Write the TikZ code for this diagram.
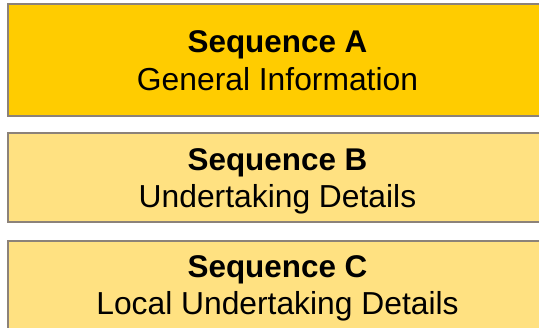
\documentclass[tikz,border=0pt]{standalone}
\usepackage{fontspec}
\setmainfont{Liberation Sans}
\usetikzlibrary{positioning}
\definecolor{seqgold}{HTML}{FFCC00}
\definecolor{seqpale}{HTML}{FFE181}
\definecolor{seqline}{HTML}{8C8279}
\tikzstyle{every node}+=[inner sep=0pt]
\tikzstyle{seqbox}=[draw=seqline,line width=1.5pt,minimum width=539pt]
\tikzstyle{seqhead}=[font=\fontsize{31.4}{38}\selectfont\bfseries,anchor=base]
\tikzstyle{seqtext}=[font=\fontsize{31.8}{38}\selectfont,anchor=base]

\begin{document}
\begin{tikzpicture}[x=1pt,y=-1pt]
\useasboundingbox (0,0) rectangle (539,328);

\node[seqbox,fill=seqgold,minimum height=112pt] (boxA) at (277.5,60) {};
\node[seqbox,fill=seqpale,minimum height=89pt,below=15.5pt of boxA] (boxB) {};
\node[seqbox,fill=seqpale,minimum height=89pt,below=17.5pt of boxB] (boxC) {};

\node[seqhead] (headA) at ([yshift=7pt]boxA.center) {Sequence A};
\node[seqtext] (textA) at ([yshift=-31pt]boxA.center) {General Information};

\node[seqhead] (headB) at ([yshift=6.5pt]boxB.center) {Sequence B};
\node[seqtext] (textB) at ([yshift=-30.5pt]boxB.center) {Undertaking Details};

\node[seqhead] (headC) at ([yshift=8pt]boxC.center) {Sequence C};
\node[seqtext] (textC) at ([yshift=-29.5pt]boxC.center) {Local Undertaking Details};
\end{tikzpicture}
\end{document}
